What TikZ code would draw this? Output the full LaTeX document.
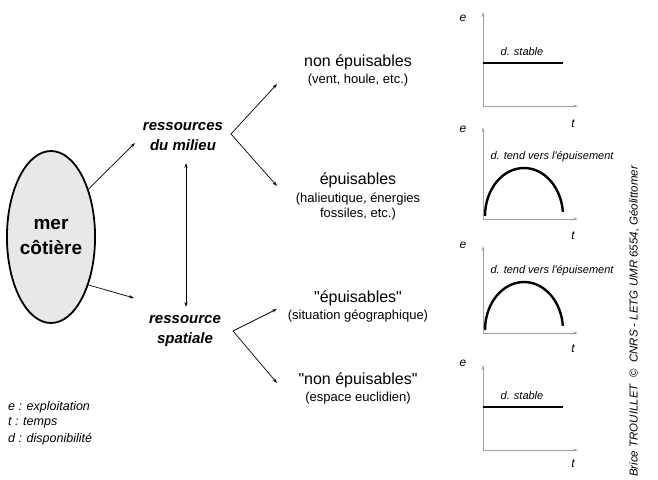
\documentclass[tikz,border=0pt]{standalone}
\usepackage{fontspec}
\setmainfont{Liberation Sans}[Ligatures=TeXOff]
\usetikzlibrary{shapes.geometric,arrows.meta}
\begin{document}
\begin{tikzpicture}[x=1pt,y=-1pt,
  arr/.style={-{Stealth[length=5pt,width=3.2pt]}, line width=0.7pt},
  biarr/.style={{Stealth[length=5pt,width=3.2pt]}-{Stealth[length=5pt,width=3.2pt]}, line width=0.7pt},
  axis/.style={draw=gray!75, line width=0.9pt, -{Stealth[length=5pt,width=3pt]}},
  curve/.style={line width=2.4pt},
  res/.style={font=\bfseries\itshape\fontsize{15}{20}\selectfont, align=center, inner sep=0},
  ttl/.style={font=\fontsize{16}{18}\selectfont, inner sep=0},
  sub/.style={font=\fontsize{13}{15}\selectfont, inner sep=0, align=center},
  lbl/.style={font=\itshape\fontsize{11}{13}\selectfont, inner sep=0},
  axl/.style={font=\itshape\fontsize{12}{14}\selectfont, inner sep=0},
  leg/.style={font=\itshape\fontsize{12.5}{14}\selectfont, inner sep=0, anchor=west}
]
\useasboundingbox (0,0) rectangle (658,479);

% central ellipse
\node[ellipse, draw, line width=1.8pt, fill=gray!18, minimum width=86, minimum height=172,
      inner sep=0, align=center, font=\bfseries\fontsize{19}{25}\selectfont] (mer) at (51,237) {mer\\côtière};

% resources
\node[res] (rm) at (183,137) {ressources\\du milieu};
\node[res] (rs) at (185,331) {ressource\\spatiale};

\coordinate (rmIn) at (135,143);
\coordinate (rsIn) at (134,298);
\draw[arr] (mer.52) -- (rmIn);
\draw[arr] (mer.-52) -- (rsIn);
\coordinate (rmB) at (186,163);
\coordinate (rsT) at (186,307);
\draw[biarr] (rmB) -- (rsT);

% branches
\coordinate (rmV) at (231,134);
\coordinate (rsV) at (233,331);
\coordinate (t1) at (277,84);
\coordinate (t2) at (277,186);
\coordinate (t3) at (277,309);
\coordinate (t4) at (277,383);
\draw[arr] (rmV) -- (t1);
\draw[arr] (rmV) -- (t2);
\draw[arr] (rsV) -- (t3);
\draw[arr] (rsV) -- (t4);

% right texts
\node[ttl] (a1) at (358,62) {non épuisables};
\node[sub] (a2) at (358,80) {(vent, houle, etc.)};
\node[ttl] (b1) at (358,180) {épuisables};
\node[sub] (b2) at (358,207) {(halieutique, énergies\\fossiles, etc.)};
\node[ttl] (c1) at (358,298) {"épuisables"};
\node[sub] (c2) at (358,316) {(situation géographique)};
\node[ttl] (d1) at (358,380) {"non épuisables"};
\node[sub] (d2) at (358,398) {(espace euclidien)};

% chart 1 (stable)
\coordinate (o1) at (483,106);
\coordinate (y1) at (483,12);
\coordinate (x1) at (578,106);
\draw[axis] (o1) -- (y1);
\draw[axis] (o1) -- (x1);
\node[axl] (e1) at (463,18) {e};
\node[axl] (tt1) at (573,124) {t};
\coordinate (s1a) at (483,63);
\coordinate (s1b) at (563,63);
\draw[curve] (s1a) -- (s1b);
\node[lbl] (l1) at (522,52) {d. stable};

% chart 2 (arch)
\coordinate (o2) at (483,219);
\coordinate (y2) at (483,127);
\coordinate (x2) at (578,219);
\draw[axis] (o2) -- (y2);
\draw[axis] (o2) -- (x2);
\node[axl] (e2) at (463,129) {e};
\node[axl] (tt2) at (573,236) {t};
\coordinate (c2a) at (485,216);
\draw[curve] (c2a) arc[start angle=180, end angle=355, x radius=39, y radius=48];
\node[lbl] (l2) at (552,157) {d. tend vers l'épuisement};

% chart 3 (arch)
\coordinate (o3) at (483,333);
\coordinate (y3) at (483,246);
\coordinate (x3) at (578,333);
\draw[axis] (o3) -- (y3);
\draw[axis] (o3) -- (x3);
\node[axl] (e3) at (463,245) {e};
\node[axl] (tt3) at (573,349) {t};
\coordinate (c3a) at (485,330);
\draw[curve] (c3a) arc[start angle=180, end angle=355, x radius=39, y radius=48];
\node[lbl] (l3) at (552,271) {d. tend vers l'épuisement};

% chart 4 (stable)
\coordinate (o4) at (483,450);
\coordinate (y4) at (483,365);
\coordinate (x4) at (578,450);
\draw[axis] (o4) -- (y4);
\draw[axis] (o4) -- (x4);
\node[axl] (e4) at (463,363) {e};
\node[axl] (tt4) at (573,464) {t};
\coordinate (s4a) at (483,407);
\coordinate (s4b) at (563,407);
\draw[curve] (s4a) -- (s4b);
\node[lbl] (l4) at (522,396) {d. stable};

% legend
\node[leg] (g1) at (8,407) {e : exploitation};
\node[leg] (g2) at (8,423) {t : temps};
\node[leg] (g3) at (8,439) {d : disponibilité};

% credit
\node[rotate=90, anchor=west, inner sep=0, font=\fontsize{11.5}{13}\selectfont] (cr) at (634,477)
  {\itshape Brice TROUILLET \ {\upshape\textcopyright} \ CNRS - LETG UMR 6554, Géolittomer};
\end{tikzpicture}
\end{document}
